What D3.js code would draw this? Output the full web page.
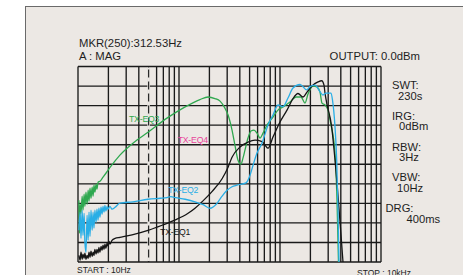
<!DOCTYPE html>
<html>
<head>
<meta charset="utf-8">
<script src="https://cdn.jsdelivr.net/npm/d3@7"></script>
<style>
  body { margin: 0; background: #fff; }
  svg { display: block; font-family: "Liberation Sans", Arial, sans-serif; }
</style>
</head>
<body>
<svg id="graph" width="463" height="275"></svg>
<script>
  // frequency (Hz), level (dB, 10 dB / div, top = 0)
  var eq1 = [[10.2,-96.6],[10.5,-99.1],[10.7,-95.0],[11.0,-98.6],[11.2,-96.0],[11.5,-98.1],[11.7,-95.5],[12.0,-98.6],
             [12.3,-96.6],[12.6,-98.1],[12.85,-95.0],[13.15,-97.6],[13.45,-94.5],[13.8,-97.1],[14.1,-95.0],[14.4,-96.6],
             [14.7,-93.5],[15.1,-96.0],[15.4,-93.5],[15.8,-95.5],[16.1,-92.5],[16.5,-95.0],[16.9,-92.0],[17.3,-94.0],
             [17.7,-91.4],[18.1,-93.5],[18.5,-90.9],[18.9,-93.0],[19.4,-90.4],[19.8,-91.9],[20.3,-89.4],[20.7,-90.9],
             [21.7,-88.9],[23.3,-87.9],[26,-87.4],[34.3,-86.1],[49.3,-83.8],[68,-81.2],[91,-78.6],[123,-75.1],
             [144,-72.5],[169,-69.2],[212,-64.0],[267,-57.4],[306,-51.5],[335,-46.4],[402,-41.2],[482,-38.7],
             [566,-37.7],[663,-38.4],[711,-40.2],[761,-41.8],[852,-36.1],[1000,-28.4],[1173,-22.3],[1345,-16.4],
             [1507,-13.8],[1689,-15.6],[1851,-13.1],[2074,-10.0],[2378,-7.9],[2588,-7.3],[2727,-9.5],[2790,-13.6],
             [2900,-18.7],[3250,-31.0],[3505,-47.9],[4205,-100]];

  var eq2 = [[10.2,-83.8],[10.5,-74.5],[10.7,-87.9],[11.0,-73.5],[11.2,-86.4],[11.5,-75.1],[11.7,-89.9],[12.0,-95.0],
             [12.3,-76.1],[12.6,-88.9],[12.85,-74.5],[13.15,-86.9],[13.45,-73.5],[13.8,-83.8],[14.1,-74.5],[14.4,-82.7],
             [14.7,-73.5],[15.1,-79.7],[15.4,-73.0],[15.8,-78.6],[16.1,-72.5],[16.5,-77.1],[16.9,-72.0],[17.3,-75.6],
             [17.7,-71.5],[18.1,-74.5],[18.5,-71.0],[18.9,-74.0],[19.4,-71.5],[19.8,-73.0],[20.7,-71.5],[21.7,-73.0],
             [23.3,-72.0],[26,-69.9],[35,-69.2],[49.3,-67.9],[65,-67.4],[76,-67.1],[83,-66.6],[93,-67.1],
             [115,-67.9],[144,-69.2],[173,-70.7],[203,-72.5],[236,-70.2],[267,-66.3],[299,-63.3],[335,-61.5],
             [375,-60.7],[461,-59.5],[505,-55.6],[541,-50.5],[592,-44.3],[663,-39.2],[760,-30.0],[852,-24.8],
             [955,-19.7],[1071,-20.5],[1200,-16.1],[1345,-11.0],[1578,-9.2],[1690,-10.3],[1830,-12.0],[1982,-10.3],
             [2221,-9.5],[2489,-12.9],[2665,-14.6],[2854,-13.6],[3199,-13.6],[3310,-17.2],[3505,-31.0],[3642,-47.9],
             [3752,-73.5],[3839,-100]];

  var eq3 = [[10.2,-68.4],[10.35,-85.3],[10.5,-70.5],[10.7,-75.1],[11.0,-66.3],[11.2,-73.5],[11.5,-65.3],[11.7,-71.5],
             [12.0,-64.3],[12.3,-70.5],[12.6,-63.3],[12.85,-68.9],[13.15,-62.2],[13.45,-67.4],[13.8,-61.7],[14.1,-66.3],
             [14.4,-60.7],[14.7,-64.3],[15.1,-60.2],[15.4,-62.8],[15.8,-59.2],[16.5,-58.7],[17.7,-56.6],[18.9,-54.6],
             [21.2,-51.0],[26,-45.3],[35,-39.2],[49.3,-33.6],[76,-26.4],[109.5,-21.3],[161,-16.9],[194,-15.6],
             [227,-16.4],[255,-17.7],[285,-21.3],[306,-24.8],[335,-32.5],[358,-40.2],[384,-47.9],[411,-49.9],
             [430,-46.9],[450,-42.8],[482,-36.6],[516,-33.0],[553,-32.5],[592,-34.1],[634,-36.6],[679,-34.1],
             [743,-30.0],[852,-25.9],[955,-22.3],[1071,-20.7],[1256,-18.2],[1440,-15.6],[1614,-15.6],[1768,-18.7],
             [1893,-14.1],[2122,-10.0],[2325,-10.5],[2489,-13.1],[2605,-18.7],[2790,-19.7],[2987,-22.3],[3199,-30.0],
             [3348,-35.1],[3505,-44.3],[3667,-68.4],[3794,-100]];

  var seriesNames = ["TX-EQ1", "TX-EQ2", "TX-EQ3", "TX-EQ4"];
  var seriesColors = ["#151515", "#29aee6", "#2fa84f", "#e8439a"];
  // label anchor (Hz, dB) for each curve name
  var labelAt = [[64.9,-86.3], [77.8,-64.8], [32,-28.6], [97,-39.2]];

  var markerHz = 50;
  var headerLeft = ["MKR(250):312.53Hz", "A : MAG"];
  var headerRight = "OUTPUT: 0.0dBm";
  var sideNames = ["SWT:", "IRG:", "RBW:", "VBW:", "DRG:"];
  var sideValues = ["230s", "0dBm", "3Hz", "10Hz", "400ms"];

  var svg = d3.select("#graph");
  var plotL = 78, plotR = 381, plotT = 66.5, plotB = 262;

  // instrument panel
  svg.append("rect")
    .attr("x", 25.5).attr("y", 6.5)
    .attr("width", 450).attr("height", 280)
    .attr("fill", "#ece8e4")
    .attr("stroke", "#6a6a6a")
    .attr("stroke-width", 1);

  var x = d3.scaleLog().domain([10, 10000]).range([plotL, plotR]);
  var y = d3.scaleLinear().domain([-100, 0]).range([plotB, plotT]);

  // grid
  var grid = svg.append("g").attr("stroke", "#1a1a1a").attr("stroke-width", 1.35);
  grid.selectAll(".vline").data(x.ticks()).enter().append("line")
    .attr("class", "vline")
    .attr("x1", function(d){ return x(d); }).attr("x2", function(d){ return x(d); })
    .attr("y1", plotT).attr("y2", plotB);
  grid.selectAll(".hline").data(y.ticks(10)).enter().append("line")
    .attr("class", "hline")
    .attr("x1", plotL).attr("x2", plotR)
    .attr("y1", function(d){ return y(d); }).attr("y2", function(d){ return y(d); });

  // marker line - panel coloured strip first so the dash gaps show through the grid
  svg.append("line")
    .attr("x1", x(markerHz)).attr("x2", x(markerHz))
    .attr("y1", plotT + 1).attr("y2", plotB - 1)
    .attr("stroke", "#ece8e4").attr("stroke-width", 2.5);
  svg.append("line")
    .attr("x1", x(markerHz)).attr("x2", x(markerHz))
    .attr("y1", plotT + 3).attr("y2", plotB)
    .attr("stroke", "#2a2a2a").attr("stroke-width", 1.2)
    .attr("stroke-dasharray", "8,4");

  svg.append("clipPath").attr("id", "plotclip")
    .append("rect").attr("x", plotL).attr("y", plotT)
    .attr("width", plotR - plotL).attr("height", plotB - plotT);

  var line = d3.line()
    .x(function(d){ return x(d[0]); })
    .y(function(d){ return y(d[1]); })
    .curve(d3.curveMonotoneX);

  var curves = [eq1, eq2, eq3];
  var plot = svg.append("g").attr("clip-path", "url(#plotclip)");
  [2, 0, 1].forEach(function(i){
    plot.append("path")
      .datum(curves[i])
      .attr("d", line)
      .attr("fill", "none")
      .attr("stroke", seriesColors[i])
      .attr("stroke-width", 1.3)
      .attr("stroke-linejoin", "round");
  });

  // curve names
  svg.selectAll(".cname").data(seriesNames).enter().append("text")
    .attr("class", "cname")
    .attr("x", function(d, i){ return x(labelAt[i][0]); })
    .attr("y", function(d, i){ return y(labelAt[i][1]); })
    .attr("fill", function(d, i){ return seriesColors[i]; })
    .style("font-size", "8.7px")
    .style("letter-spacing", "-0.2px")
    .text(function(d){ return d; });

  // header texts
  svg.selectAll(".head").data(headerLeft).enter().append("text")
    .attr("class", "head")
    .attr("x", 79)
    .attr("y", function(d, i){ return 46.5 + i * 13.5; })
    .attr("fill", "#1e1e1e")
    .style("font-size", "11.3px")
    .text(function(d){ return d; });

  svg.append("text")
    .attr("x", 420).attr("y", 60)
    .attr("text-anchor", "end")
    .attr("fill", "#1e1e1e")
    .style("font-size", "11.3px")
    .text(headerRight);

  // settings column on the right
  var sideNameX = [392, 392, 392, 392, 385.5];
  var sideValX = [398, 399, 399, 397, 406.5];
  var sideY = [89, 119.5, 150.5, 181, 212];
  var side = svg.append("g").attr("fill", "#1e1e1e").style("font-size", "11.2px");
  side.selectAll(".sname").data(sideNames).enter().append("text")
    .attr("x", function(d, i){ return sideNameX[i]; })
    .attr("y", function(d, i){ return sideY[i]; })
    .text(function(d){ return d; });
  side.selectAll(".sval").data(sideValues).enter().append("text")
    .attr("x", function(d, i){ return sideValX[i]; })
    .attr("y", function(d, i){ return sideY[i] + 10.5; })
    .text(function(d){ return d; });

  svg.append("text").text("START : 10Hz")
    .attr("x", 77).attr("y", 272.5)
    .attr("fill", "#222").style("font-size", "8.5px");
  svg.append("text").text("STOP : 10kHz")
    .attr("x", 357).attr("y", 275.5)
    .attr("fill", "#222").style("font-size", "8.5px");
</script>
</body>
</html>
